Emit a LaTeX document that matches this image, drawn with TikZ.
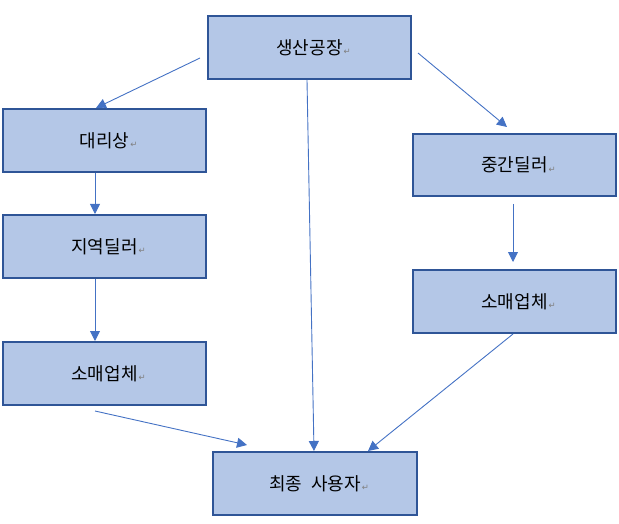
\documentclass[tikz,border=0pt]{standalone}
\usepackage{fontspec}
\newfontfamily\kofont{Noto Sans CJK KR}
\newfontfamily\symfont{DejaVu Sans}
\usetikzlibrary{arrows.meta}
\definecolor{boxfill}{HTML}{B4C7E7}
\definecolor{boxline}{HTML}{2F5597}
\definecolor{arrowcol}{HTML}{4472C4}
\definecolor{markcol}{HTML}{808080}
\newcommand{\pmark}{\rlap{\hspace{1pt}\raisebox{-0.5pt}{\symfont\fontsize{8.5}{10}\selectfont\color{markcol}↵}}}
\tikzset{
  boxnode/.style={draw=boxline, fill=boxfill, line width=2pt, minimum width=203pt, minimum height=63pt, inner sep=0pt,
    font=\kofont\fontsize{18}{20}\selectfont},
  conn/.style={draw=arrowcol, line width=0.9pt, -{Triangle[length=10pt,width=10pt]}}
}
\begin{document}
\begin{tikzpicture}[x=1pt,y=-1pt]
\useasboundingbox (0,0) rectangle (619,524);
\node[boxnode] (prod) at (309.5,47.5) {생산공장\pmark};
\node[boxnode] (dealer) at (104.5,140.5) {대리상\pmark};
\node[boxnode] (region) at (104.5,246.5) {지역딜러\pmark};
\node[boxnode] (retailL) at (104.5,373.5) {소매업체\pmark};
\node[boxnode, minimum height=62pt] (mid) at (514.5,165) {중간딜러\pmark};
\node[boxnode] (retailR) at (514.5,301.5) {소매업체\pmark};
\node[boxnode, minimum width=204pt] (final) at (315,483.5) {최종\hspace{0.5em}사용자\pmark};

\coordinate (a1) at (200,58);
\coordinate (b1) at (418,53);
\coordinate (b2) at (507,127);
\coordinate (c1) at (513,204);
\coordinate (c2) at (513,262);
\coordinate (d1) at (95,411);
\coordinate (d2) at (247,445);

\draw[conn] (a1) -- ([xshift=-8.5pt]dealer.north);
\draw[conn] ([xshift=-2.5pt]prod.south) -- ([xshift=-1pt]final.north);
\draw[conn] (b1) -- (b2);
\draw[conn] (c1) -- (c2);
\draw[conn] ([xshift=-9.5pt]dealer.south) -- ([xshift=-9.5pt]region.north);
\draw[conn] ([xshift=-9.5pt]region.south) -- ([xshift=-9.5pt]retailL.north);
\draw[conn] (d1) -- (d2);
\draw[conn] ([xshift=-1.5pt]retailR.south) -- ([xshift=53pt]final.north);
\end{tikzpicture}
\end{document}
